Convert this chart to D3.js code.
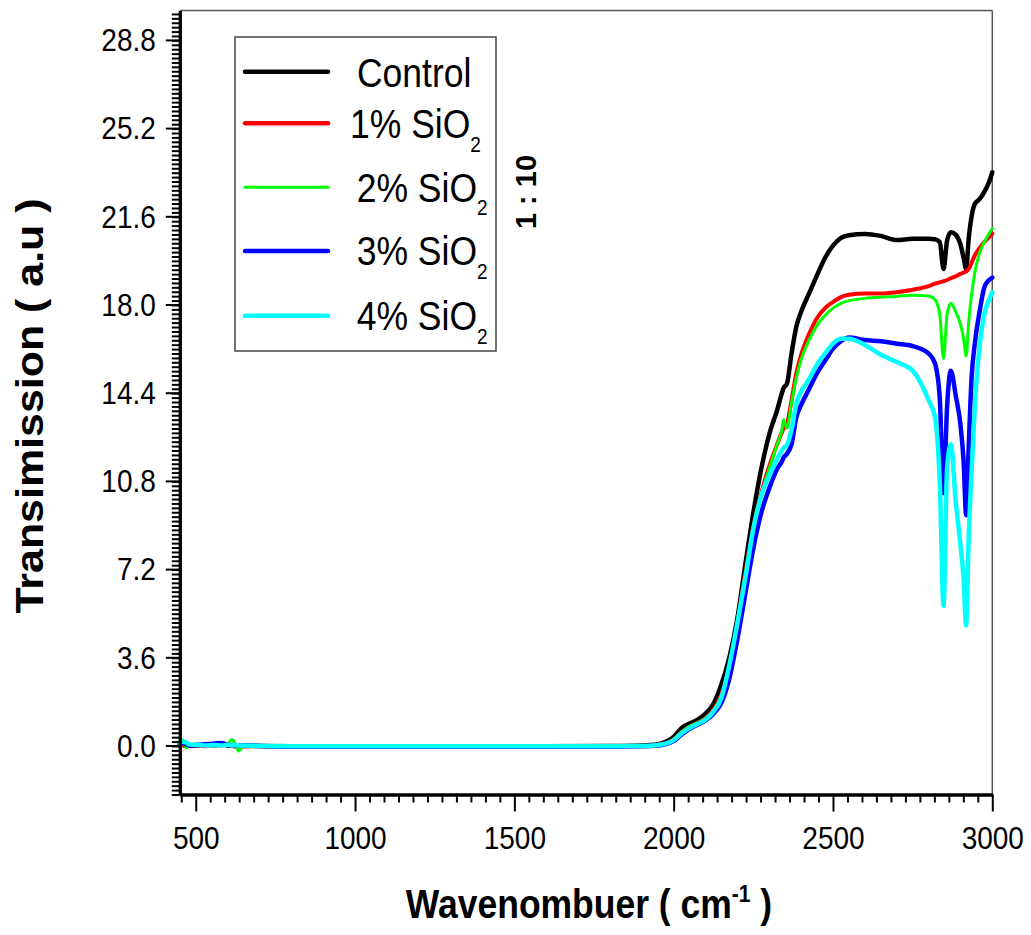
<!DOCTYPE html>
<html>
<head>
<meta charset="utf-8">
<script src="https://cdn.jsdelivr.net/npm/d3@7"></script>
<style>
  html, body { margin: 0; padding: 0; background: #fff; }
  svg { display: block; }
  text { font-family: "Liberation Sans", Arial, Helvetica, sans-serif; fill: #000; }
</style>
</head>
<body>
<svg id="chart" width="1031" height="935"></svg>
<script>
// FTIR transmission spectra, wavenumber grid (cm-1)
const wavenumber = [450, 460, 470, 480, 500, 530, 560, 580, 600, 613, 625, 634, 650, 700, 800, 900, 1000, 1200, 1400, 1600, 1800, 1900, 1950, 1975, 2000, 2025, 2050, 2075, 2100, 2125, 2150, 2175, 2200, 2225, 2250, 2275, 2300, 2325, 2340, 2345, 2355, 2370, 2385, 2400, 2425, 2450, 2475, 2500, 2525, 2550, 2600, 2650, 2700, 2750, 2800, 2820, 2835, 2847, 2858, 2870, 2885, 2900, 2910, 2918, 2926, 2935, 2945, 2960, 2975, 2990, 3000];

const control = [0.1, 0.05, 0.08, 0.02, 0.0, 0.03, 0.0, 0.05, 0.0, 0.02, 0.0, -0.02, 0.0, -0.02, -0.03, -0.03, -0.03, -0.03, -0.03, -0.03, -0.02, 0.0, 0.05, 0.15, 0.35, 0.72, 0.9, 1.05, 1.3, 1.7, 2.5, 3.6, 5.2, 7.4, 9.5, 11.3, 12.7, 13.7, 14.4, 14.6, 14.75, 16.0, 17.1, 17.7, 18.45, 19.2, 19.9, 20.4, 20.72, 20.83, 20.88, 20.8, 20.63, 20.68, 20.68, 20.66, 20.55, 19.45, 20.6, 20.95, 20.85, 20.45, 19.9, 19.45, 20.7, 21.6, 22.1, 22.3, 22.6, 23.0, 23.4];

const sio2_1 = [0.05, 0.0, -0.05, 0.02, 0.0, -0.03, 0.02, 0.0, 0.03, 0.0, -0.05, 0.0, -0.04, -0.03, -0.04, -0.04, -0.04, -0.04, -0.04, -0.04, -0.04, -0.02, 0.03, 0.1, 0.25, 0.55, 0.78, 0.92, 1.12, 1.45, 2.1, 3.2, 5.0, 7.05, 8.9, 10.3, 11.4, 12.3, 12.8, 12.95, 13.1, 14.1, 15.2, 15.95, 16.8, 17.45, 17.85, 18.1, 18.3, 18.4, 18.45, 18.45, 18.5, 18.6, 18.75, 18.85, 18.9, 18.95, 19.0, 19.07, 19.15, 19.25, 19.3, 19.35, 19.45, 19.7, 20.0, 20.3, 20.55, 20.75, 20.9];

const sio2_2 = [0.2, 0.22, -0.1, 0.05, 0.0, 0.02, -0.02, 0.03, 0.05, 0.24, 0.05, -0.23, 0.0, -0.02, -0.03, -0.03, -0.03, -0.03, -0.03, -0.03, -0.03, -0.02, 0.03, 0.1, 0.25, 0.55, 0.78, 0.92, 1.1, 1.43, 2.05, 3.15, 4.95, 7.0, 8.85, 10.25, 11.3, 12.3, 12.9, 13.3, 12.95, 14.0, 15.0, 15.75, 16.55, 17.15, 17.55, 17.85, 18.05, 18.15, 18.25, 18.3, 18.33, 18.38, 18.35, 18.2, 17.6, 15.8, 17.6, 18.05, 17.7, 17.2, 16.6, 15.9, 17.3, 18.4, 19.3, 20.1, 20.55, 20.9, 21.1];

const sio2_3 = [0.05, 0.1, 0.05, 0.0, 0.02, 0.05, 0.08, 0.1, 0.03, 0.0, 0.02, 0.0, 0.0, -0.02, -0.04, -0.04, -0.04, -0.04, -0.04, -0.04, -0.04, -0.03, 0.0, 0.06, 0.18, 0.45, 0.68, 0.85, 1.02, 1.3, 1.75, 2.75, 4.35, 6.2, 8.05, 9.5, 10.5, 11.3, 11.6, 11.75, 11.9, 12.3, 13.4, 13.9, 14.55, 15.2, 15.7, 16.2, 16.5, 16.65, 16.55, 16.5, 16.4, 16.3, 16.0, 15.6, 14.2, 10.3, 13.8, 15.3, 14.3, 13.1, 11.6, 9.4, 12.2, 15.0, 16.4, 17.7, 18.7, 19.0, 19.1];

const sio2_4 = [0.1, 0.15, 0.12, 0.05, 0.03, 0.0, 0.02, 0.0, 0.03, 0.0, 0.02, 0.0, 0.0, -0.02, -0.03, -0.03, -0.03, -0.03, -0.03, -0.03, -0.03, -0.02, 0.02, 0.08, 0.22, 0.5, 0.72, 0.88, 1.05, 1.38, 1.95, 3.3, 5.0, 6.85, 8.85, 10.2, 11.0, 11.7, 12.05, 12.15, 12.25, 12.9, 13.95, 14.45, 14.95, 15.55, 16.0, 16.4, 16.6, 16.6, 16.35, 15.95, 15.65, 15.3, 14.1, 13.4, 10.8, 5.7, 11.3, 12.3, 10.0, 8.2, 6.8, 4.9, 8.5, 11.2, 13.8, 16.3, 17.6, 18.2, 18.5];

const seriesNames = ["Control", "1% SiO", "2% SiO", "3% SiO", "4% SiO"];
const seriesValues = [control, sio2_1, sio2_2, sio2_3, sio2_4];
const seriesColors = ["#000000", "#ff0000", "#00ff00", "#0000ff", "#00ffff"];
const seriesWidths = [4.5, 4, 3, 4.5, 4.5];

const xMajorTicks = [500, 1000, 1500, 2000, 2500, 3000];
const yMajorTicks = [0.0, 3.6, 7.2, 10.8, 14.4, 18.0, 21.6, 25.2, 28.8];
const xDomain = [450, 3000];
const yDomain = [-2, 30];

const svg = d3.select("#chart");
const plot = { left: 179.8, right: 992.3, top: 10.5, bottom: 794.5 };

const x = d3.scaleLinear().domain(xDomain).range([plot.left, plot.right]);
const y = d3.scaleLinear().domain(yDomain).range([plot.bottom, plot.top]);

// minor ticks: 10 per major interval on x, 19 per interval on y
const xStep = 500 / 11;
const xMinor = [];
for (let m = 500 - xStep; m >= xDomain[0] - 1e-6; m -= xStep) xMinor.push(m);
for (let i = 0; i < xMajorTicks.length - 1; i++)
  for (let k = 1; k <= 10; k++) xMinor.push(xMajorTicks[i] + k * xStep);
const yStep = 0.18;
const yMinor = [];
for (let v = yDomain[0]; v <= yDomain[1] + 1e-6; v += yStep) {
  const r = Math.round(v * 100) / 100;
  if (Math.abs(Math.round(r / 3.6) * 3.6 - r) > 1e-6) yMinor.push(r);
}

// frame (top and right)
svg.append("line").attr("x1", plot.left).attr("x2", plot.right).attr("y1", plot.top).attr("y2", plot.top)
  .attr("stroke", "#555").attr("stroke-width", 1.5);
svg.append("line").attr("x1", plot.right).attr("x2", plot.right).attr("y1", plot.top).attr("y2", plot.bottom)
  .attr("stroke", "#555").attr("stroke-width", 1.5);

// spectra
const line = d3.line()
  .x((d, i) => x(wavenumber[i]))
  .y(d => y(d))
  .curve(d3.curveMonotoneX);

seriesValues.forEach((vals, i) => {
  svg.append("path")
    .datum(vals)
    .attr("d", line)
    .attr("fill", "none")
    .attr("stroke", seriesColors[i])
    .attr("stroke-width", seriesWidths[i])
    .attr("stroke-linejoin", "round")
    .attr("stroke-linecap", "round");
});

const textScale = 1.13;

// x axis
const gxMinor = svg.append("g").attr("transform", `translate(0,${plot.bottom})`)
  .call(d3.axisBottom(x).tickValues(xMinor).tickSize(8).tickSizeOuter(0).tickFormat(""));
const gx = svg.append("g").attr("transform", `translate(0,${plot.bottom})`)
  .call(d3.axisBottom(x).tickValues(xMajorTicks).tickSize(17).tickSizeOuter(0).tickFormat(d3.format("d")));
[gxMinor, gx].forEach(g => {
  g.select(".domain").attr("stroke", "#000").attr("stroke-width", 3);
  g.selectAll(".tick line").attr("stroke", "#000").attr("stroke-width", 2);
});
gx.selectAll(".tick text")
  .attr("y", 48).attr("dy", null)
  .attr("font-size", 28)
  .attr("font-family", "Liberation Sans, Arial, sans-serif")
  .attr("transform", `scale(1,${textScale})`);

// y axis
const gyMinor = svg.append("g").attr("transform", `translate(${plot.left},0)`)
  .call(d3.axisLeft(y).tickValues(yMinor).tickSize(8).tickSizeOuter(0).tickFormat(""));
const gy = svg.append("g").attr("transform", `translate(${plot.left},0)`)
  .call(d3.axisLeft(y).tickValues(yMajorTicks).tickSize(14).tickSizeOuter(0).tickFormat(d3.format(".1f")));
[gyMinor, gy].forEach(g => {
  g.select(".domain").attr("stroke", "#000").attr("stroke-width", 3);
  g.selectAll(".tick line").attr("stroke", "#000").attr("stroke-width", 2);
});
gy.selectAll(".tick text")
  .attr("x", -24).attr("dy", "0.34em")
  .attr("font-size", 28)
  .attr("font-family", "Liberation Sans, Arial, sans-serif")
  .attr("transform", `scale(1,${textScale})`);

// axis titles
const xt = svg.append("g").attr("transform", `translate(589,918) scale(1,${textScale})`)
  .append("text").attr("text-anchor", "middle").attr("font-weight", "bold").attr("font-size", 35.5);
xt.append("tspan").text("Wavenombuer ( cm");
xt.append("tspan").attr("font-size", 21).attr("dy", -14).text("-1");
xt.append("tspan").attr("dy", 14).text(" )");

svg.append("g").attr("transform", `translate(43,406) rotate(-90) scale(${textScale},1)`)
  .append("text").attr("text-anchor", "middle").attr("font-weight", "bold").attr("font-size", 38)
  .text("Transimission ( a.u )");

svg.append("g").attr("transform", "translate(536,192) rotate(-90)")
  .append("text").attr("text-anchor", "middle").attr("font-weight", "bold").attr("font-size", 29)
  .text("1 : 10");

// legend
svg.append("rect").attr("x", 235).attr("y", 37).attr("width", 261).attr("height", 314)
  .attr("fill", "none").attr("stroke", "#444").attr("stroke-width", 1.5);
const legendRows = [71.7, 123.3, 187.3, 251, 315.7];
const legendTextX = [357, 350, 356.7, 356.7, 356.7];
const legendBase = [86.7, 138.3, 201.7, 265, 330];
seriesNames.forEach((name, i) => {
  svg.append("line").attr("x1", 245).attr("x2", 328).attr("y1", legendRows[i]).attr("y2", legendRows[i])
    .attr("stroke", seriesColors[i]).attr("stroke-width", seriesWidths[i] === 3 ? 3 : 4.5)
    .attr("stroke-linecap", "round");
  const t = svg.append("g").attr("transform", `translate(${legendTextX[i]},${legendBase[i]}) scale(1,${textScale})`)
    .append("text").attr("font-size", 35.5);
  t.append("tspan").text(name);
  if (i > 0) t.append("tspan").attr("font-size", 19).attr("dy", 12).text("2");
});
</script>
</body>
</html>
